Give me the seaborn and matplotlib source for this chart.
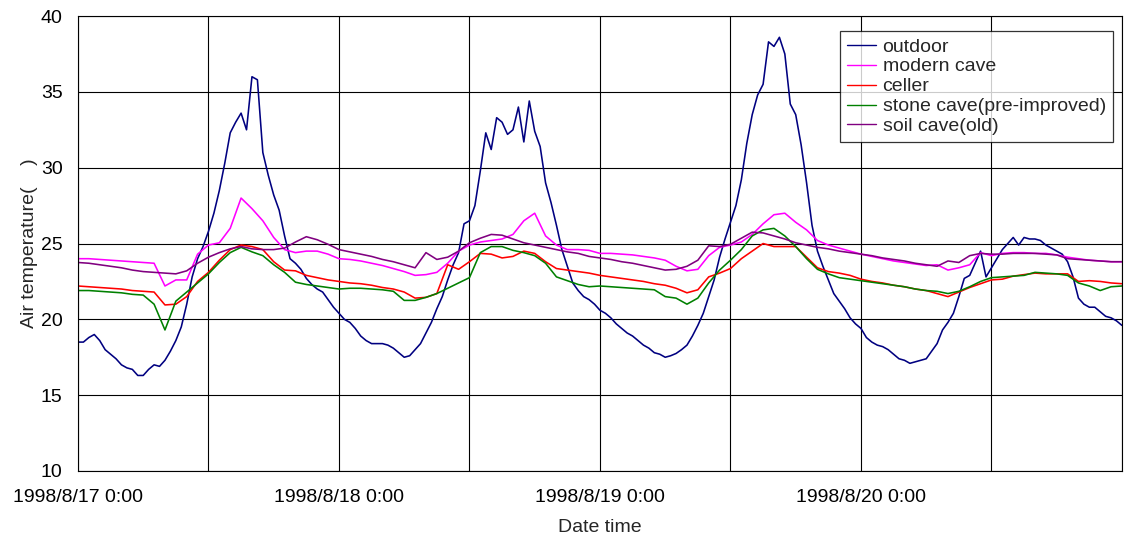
import numpy as np
import pandas as pd
import matplotlib
matplotlib.use("Agg")
import matplotlib.pyplot as plt
import seaborn as sns

# Observation period: 1998/8/17 0:00 to 1998/8/21 0:00
start = pd.Timestamp("1998-08-17 00:00")

# Outdoor air temperature, half-hourly (deg C)
outdoor = [
    18.5, 18.5, 18.8, 19.0, 18.6, 18.0, 17.7, 17.4, 17.0, 16.8,
    16.7, 16.3, 16.3, 16.7, 17.0, 16.9, 17.3, 17.9, 18.6, 19.5,
    21.0, 22.8, 24.0, 24.8, 25.8, 27.0, 28.5, 30.3, 32.3, 33.0,
    33.6, 32.5, 36.0, 35.8, 31.0, 29.5, 28.2, 27.2, 25.5, 24.0,
    23.7, 23.3, 22.7, 22.3, 22.0, 21.8, 21.3, 20.8, 20.4, 20.0,
    19.8, 19.4, 18.9, 18.6, 18.4, 18.4, 18.4, 18.3, 18.1, 17.8,
    17.5, 17.6, 18.0, 18.4, 19.1, 19.8, 20.7, 21.5, 22.6, 23.6,
    24.4, 26.3, 26.5, 27.5, 29.8, 32.3, 31.2, 33.3, 33.0, 32.2,
    32.5, 34.0, 31.7, 34.4, 32.4, 31.4, 29.0, 27.7, 26.2, 24.6,
    23.5, 22.4, 21.9, 21.5, 21.3, 21.0, 20.6, 20.4, 20.1, 19.7,
    19.4, 19.1, 18.9, 18.6, 18.3, 18.1, 17.8, 17.7, 17.5, 17.6,
    17.75, 18.0, 18.3, 18.9, 19.6, 20.4, 21.5, 22.6, 24.1, 25.3,
    26.4, 27.5, 29.2, 31.6, 33.5, 34.8, 35.5, 38.3, 38.0, 38.6,
    37.5, 34.2, 33.5, 31.5, 29.0, 26.2, 24.5, 23.5, 22.6, 21.7,
    21.2, 20.7, 20.1, 19.7, 19.4, 18.8, 18.5, 18.3, 18.2, 18.0,
    17.7, 17.4, 17.3, 17.1, 17.2, 17.3, 17.4, 17.9, 18.4, 19.3,
    19.8, 20.4, 21.5, 22.7, 22.9, 23.7, 24.5, 22.8, 23.4, 24.0,
    24.6, 25.0, 25.4, 24.9, 25.4, 25.3, 25.3, 25.2, 24.9, 24.7,
    24.5, 24.3, 23.8, 22.8, 21.4, 21.0, 20.8, 20.8, 20.5, 20.2,
    20.1, 19.9, 19.6,
]

# Cave and cellar air temperatures, hourly (deg C)
modern_cave = [
    24.0, 24.0, 23.95, 23.9, 23.85, 23.8, 23.75, 23.7, 22.2, 22.6,
    22.6, 24.3, 24.9, 25.05, 26.0, 28.0, 27.3, 26.5, 25.4, 24.6,
    24.4, 24.5, 24.5, 24.3, 24.0, 23.95, 23.85, 23.7, 23.55, 23.35,
    23.15, 22.9, 22.95, 23.1, 23.7, 24.5, 24.9, 25.1, 25.2, 25.3,
    25.6, 26.5, 27.0, 25.5, 24.9, 24.6, 24.6, 24.55, 24.35, 24.35,
    24.3, 24.25, 24.15, 24.05, 23.9, 23.5, 23.2, 23.3, 24.2, 24.75,
    24.9, 25.1, 25.6, 26.3, 26.9, 27.0, 26.4, 25.9, 25.2, 24.9,
    24.7, 24.5, 24.3, 24.15, 24.0, 23.85, 23.75, 23.65, 23.55, 23.6,
    23.25, 23.4, 23.6, 24.4, 24.2, 24.35, 24.4, 24.4, 24.35, 24.35,
    24.25, 24.1, 24.0, 23.9, 23.85, 23.8, 23.8,
]

celler = [
    22.2, 22.15, 22.1, 22.05, 22.0, 21.9, 21.85, 21.8, 20.95, 21.0,
    21.5, 22.5, 23.1, 23.9, 24.6, 24.9, 24.8, 24.6, 23.8, 23.25,
    23.2, 22.9, 22.75, 22.6, 22.5, 22.4, 22.35, 22.25, 22.1, 22.0,
    21.8, 21.4, 21.45, 21.7, 23.6, 23.3, 23.8, 24.35, 24.3, 24.05,
    24.15, 24.5, 24.35, 23.8, 23.35, 23.25, 23.15, 23.05, 22.9, 22.8,
    22.7, 22.6, 22.5, 22.35, 22.25, 22.05, 21.75, 21.95, 22.8, 23.05,
    23.35, 24.0, 24.5, 25.0, 24.8, 24.8, 24.8, 24.1, 23.4, 23.15,
    23.05, 22.9, 22.65, 22.5, 22.4, 22.25, 22.15, 22.0, 21.9, 21.7,
    21.5, 21.8, 22.1, 22.35, 22.6, 22.65, 22.85, 22.95, 23.05, 23.0,
    23.0, 23.0, 22.5, 22.55, 22.5, 22.4, 22.35,
]

stone_cave = [
    21.9, 21.9, 21.85, 21.8, 21.75, 21.65, 21.6, 21.0, 19.3, 21.2,
    21.8, 22.4, 23.0, 23.75, 24.4, 24.75, 24.45, 24.2, 23.6, 23.1,
    22.45, 22.3, 22.2, 22.1, 22.0, 22.05, 22.05, 22.0, 21.95, 21.85,
    21.25, 21.25, 21.45, 21.7, 22.05, 22.4, 22.75, 24.4, 24.8, 24.8,
    24.55, 24.4, 24.2, 23.7, 22.8, 22.55, 22.3, 22.15, 22.2, 22.15,
    22.1, 22.05, 22.0, 21.95, 21.5, 21.4, 21.0, 21.4, 22.4, 23.25,
    23.9, 24.6, 25.5, 25.9, 26.0, 25.5, 24.8, 24.0, 23.3, 23.0,
    22.75, 22.65, 22.55, 22.45, 22.35, 22.25, 22.15, 22.0, 21.9, 21.85,
    21.7, 21.85, 22.15, 22.5, 22.75, 22.8, 22.85, 22.9, 23.1, 23.05,
    23.0, 22.9, 22.4, 22.2, 21.9, 22.15, 22.2,
]

soil_cave = [
    23.75, 23.7, 23.6, 23.5, 23.4, 23.25, 23.15, 23.1, 23.05, 23.0,
    23.2, 23.7, 24.1, 24.4, 24.65, 24.8, 24.65, 24.6, 24.6, 24.7,
    25.1, 25.45, 25.25, 24.95, 24.6, 24.45, 24.3, 24.15, 23.95, 23.8,
    23.6, 23.4, 24.4, 23.95, 24.1, 24.5, 25.05, 25.35, 25.6, 25.55,
    25.3, 25.05, 24.9, 24.75, 24.6, 24.45, 24.35, 24.15, 24.05, 23.95,
    23.8, 23.7, 23.55, 23.4, 23.25, 23.3, 23.5, 23.9, 24.85, 24.8,
    24.95, 25.35, 25.75, 25.7, 25.5, 25.3, 25.05, 24.9, 24.75, 24.65,
    24.5, 24.4, 24.3, 24.2, 24.05, 23.95, 23.85, 23.7, 23.6, 23.5,
    23.85, 23.75, 24.2, 24.35, 24.3, 24.3, 24.35, 24.35, 24.35, 24.3,
    24.25, 24.0, 23.95, 23.9, 23.85, 23.8, 23.8,
]

series_names = ["outdoor", "modern cave", "celler",
                "stone cave(pre-improved)", "soil cave(old)"]
series_colors = ["#000080", "#FF00FF", "#FF0000", "#008000", "#800080"]

# Build a long-form table: hours since start, temperature, site
frames = []
half_hours = np.arange(len(outdoor)) * 0.5
frames.append(pd.DataFrame({"hours": half_hours, "temp": outdoor,
                            "site": series_names[0]}))
for name, vals in zip(series_names[1:],
                      [modern_cave, celler, stone_cave, soil_cave]):
    frames.append(pd.DataFrame({"hours": np.arange(len(vals), dtype=float),
                                "temp": vals, "site": name}))
df = pd.concat(frames, ignore_index=True)

sns.set_theme(style="white")
plt.rcParams["font.family"] = ["Liberation Sans", "DejaVu Sans"]

FS = 14

fig = plt.figure(figsize=(11.25, 5.36), dpi=100)
ax = fig.add_axes([0.0693, 0.1213, 0.9280, 0.8487])

sns.lineplot(data=df, x="hours", y="temp", hue="site",
             hue_order=series_names, palette=series_colors,
             linewidth=1.15, ax=ax, estimator=None, sort=False)

ax.set_xlim(0, 96)
ax.set_ylim(10, 40)

# x grid every 12 h, date labels at midnight
grid_hours = np.arange(0, 97, 12)
ax.set_xticks(grid_hours)
labels = []
for h in grid_hours:
    t = start + pd.Timedelta(hours=int(h))
    if h % 24 == 0 and h < 96:
        labels.append(f"{t.year}/{t.month}/{t.day} {t.hour}:{t.minute:02d}")
    else:
        labels.append("")
ax.set_xticklabels(labels, fontsize=FS)
ax.set_yticks(np.arange(10, 41, 5))
ax.set_yticklabels([str(v) for v in range(10, 41, 5)], fontsize=FS)

ax.grid(True, color="black", linewidth=0.8)
ax.tick_params(axis="both", direction="out", length=3, width=0.8,
               color="black", colors="black")
ax.tick_params(axis="y", pad=8)
ax.tick_params(axis="x", pad=10)
for sp in ax.spines.values():
    sp.set_color("black")
    sp.set_linewidth(0.8)

ax.set_xlabel("Date time", fontsize=FS, labelpad=9)
ax.set_ylabel("Air temperature(    )", fontsize=FS, labelpad=2)

leg = ax.legend(loc="upper right", bbox_to_anchor=(0.991, 0.967),
                fontsize=FS, frameon=True, fancybox=False,
                edgecolor="black", handlelength=1.5, handletextpad=0.35,
                borderpad=0.35, labelspacing=0.12, borderaxespad=0)
leg.get_frame().set_linewidth(0.9)
for line in leg.get_lines():
    line.set_linewidth(1.0)

fig.savefig("out.png", dpi=100)
